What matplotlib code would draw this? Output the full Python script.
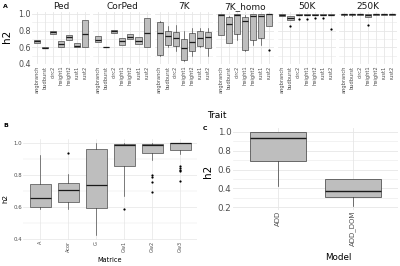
import matplotlib
matplotlib.use("Agg")
import matplotlib.pyplot as plt
import numpy as np

# ---------------- Data ----------------
traits = ["angbranch", "budburst", "circ2", "height1", "height2", "rust1", "rust2"]
datasets = ["Ped", "CorPed", "7K", "7K_homo", "50K", "250K"]

# Panel A: per dataset box stats (q1, median, q3, whisker low, whisker high, outliers)
ped_q1 = [0.652, 0.593, 0.757, 0.603, 0.688, 0.603, 0.600]
ped_med = [0.670, 0.597, 0.780, 0.640, 0.720, 0.620, 0.765]
ped_q3 = [0.688, 0.600, 0.800, 0.676, 0.753, 0.647, 0.927]
ped_lo = ped_q1
ped_hi = ped_q3
ped_out = [[], [], [], [], [], [], []]

corped_q1 = [0.660, 0.598, 0.770, 0.630, 0.696, 0.635, 0.600]
corped_med = [0.690, 0.600, 0.790, 0.675, 0.725, 0.680, 0.777]
corped_q3 = [0.730, 0.602, 0.810, 0.716, 0.757, 0.720, 0.947]
corped_lo = corped_q1
corped_hi = corped_q3
corped_out = [[], [], [], [], [], [], []]

k7_q1 = [0.508, 0.628, 0.610, 0.448, 0.550, 0.620, 0.590]
k7_med = [0.770, 0.740, 0.710, 0.588, 0.667, 0.710, 0.720]
k7_q3 = [0.904, 0.796, 0.780, 0.696, 0.770, 0.790, 0.780]
k7_lo = [0.490, 0.600, 0.560, 0.430, 0.500, 0.600, 0.500]
k7_hi = [0.920, 0.850, 0.870, 0.800, 0.830, 0.830, 0.830]
k7_out = [[], [], [], [], [], [], []]

k7h_q1 = [0.748, 0.648, 0.760, 0.570, 0.690, 0.710, 0.850]
k7h_med = [0.990, 0.880, 0.990, 0.910, 0.976, 0.976, 1.000]
k7h_q3 = [1.000, 0.960, 1.000, 0.960, 1.000, 1.000, 1.000]
k7h_lo = [0.748, 0.648, 0.690, 0.550, 0.630, 0.630, 0.850]
k7h_hi = [1.000, 0.970, 1.000, 0.990, 1.000, 1.000, 1.000]
k7h_out = [[], [], [], [], [], [], [0.57]]

k50_q1 = [0.980, 0.930, 0.985, 0.985, 0.985, 0.985, 0.985]
k50_med = [0.990, 0.950, 0.993, 0.993, 0.993, 0.993, 0.993]
k50_q3 = [1.000, 0.970, 1.000, 1.000, 1.000, 1.000, 1.000]
k50_lo = k50_q1
k50_hi = k50_q3
k50_out = [[], [0.85], [0.94], [0.94], [0.95], [0.95], [0.82]]

k250_q1 = [0.990, 0.992, 0.993, 0.960, 0.993, 0.993, 0.993]
k250_med = [0.995, 0.996, 0.996, 0.990, 0.996, 0.996, 0.996]
k250_q3 = [1.000, 1.000, 1.000, 1.000, 1.000, 1.000, 1.000]
k250_lo = [0.975, 0.980, 0.993, 0.960, 0.993, 0.993, 0.993]
k250_hi = k250_q3
k250_out = [[], [], [], [0.87], [], [], []]

# Panel B
matrices = ["A", "Acor", "G", "Gw1", "Gw2", "Gw3"]
b_q1 = [0.598, 0.629, 0.592, 0.856, 0.938, 0.955]
b_med = [0.660, 0.705, 0.736, 0.990, 0.990, 1.000]
b_q3 = [0.746, 0.753, 0.965, 0.996, 0.996, 1.000]
b_lo = [0.588, 0.590, 0.423, 0.670, 0.897, 0.930]
b_hi = [0.928, 0.810, 1.000, 1.000, 1.000, 1.000]
b_out = [[], [0.94], [], [0.588], [0.80, 0.79, 0.757, 0.695],
         [0.856, 0.845, 0.835, 0.825, 0.763]]

# Panel C
models = ["ADD", "ADD_DOM"]
c_q1 = [0.690, 0.313]
c_med = [0.930, 0.376]
c_q3 = [1.000, 0.496]
c_lo = [0.425, 0.214]
c_hi = [1.000, 0.496]
c_out = [[], []]

panel_a = [
    (ped_q1, ped_med, ped_q3, ped_lo, ped_hi, ped_out),
    (corped_q1, corped_med, corped_q3, corped_lo, corped_hi, corped_out),
    (k7_q1, k7_med, k7_q3, k7_lo, k7_hi, k7_out),
    (k7h_q1, k7h_med, k7h_q3, k7h_lo, k7h_hi, k7h_out),
    (k50_q1, k50_med, k50_q3, k50_lo, k50_hi, k50_out),
    (k250_q1, k250_med, k250_q3, k250_lo, k250_hi, k250_out),
]

# ---------------- Style ----------------
FILL = "#bebebe"
EDGE = "#3a3a3a"
GRID = "#e6e6e6"
TXT = "#4d4d4d"
W, H = 400, 266

fig = plt.figure(figsize=(W / 100, H / 100), dpi=100)
fig.patch.set_facecolor("white")


def px_axes(x0, y0, x1, y1):
    return fig.add_axes([x0 / W, 1 - y1 / H, (x1 - x0) / W, (y1 - y0) / H])


def make_stats(q1, med, q3, lo, hi, out):
    return [dict(q1=a, med=m, q3=b, whislo=l, whishi=h, fliers=f)
            for a, m, b, l, h, f in zip(q1, med, q3, lo, hi, out)]


def style_ax(ax, major, minor, lw=0.5, pad=1):
    for s in ax.spines.values():
        s.set_visible(False)
    ax.set_yticks(major)
    ax.set_yticks(minor, minor=True)
    ax.tick_params(length=0, which="both", colors=TXT, pad=pad)
    ax.grid(True, which="major", color=GRID, lw=lw, zorder=0)
    ax.grid(True, which="minor", axis="y", color=GRID, lw=lw * 0.6, zorder=0)
    ax.set_axisbelow(True)


def draw_box(ax, stats, lw=0.5):
    ax.bxp(stats, positions=np.arange(1, len(stats) + 1), widths=0.75,
           patch_artist=True, showcaps=False,
           boxprops=dict(facecolor=FILL, edgecolor=EDGE, lw=lw),
           medianprops=dict(color="#1a1a1a", lw=lw * 2),
           whiskerprops=dict(color=EDGE, lw=lw),
           flierprops=dict(marker="o", markersize=1.6, markerfacecolor="black",
                           markeredgecolor="none"))


# ---------------- Panel A ----------------
a_left, a_w, a_step = 32, 58, 61.4
a_top, a_bot = 11.5, 64.4
for i, (name, st) in enumerate(zip(datasets, panel_a)):
    x0 = a_left + i * a_step
    ax = px_axes(x0, a_top, x0 + a_w, a_bot)
    style_ax(ax, [0.4, 0.6, 0.8, 1.0], [0.5, 0.7, 0.9], lw=0.6)
    draw_box(ax, make_stats(*st), lw=0.45)
    ax.set_xlim(0.4, len(traits) + 0.6)
    ax.set_ylim(0.395, 1.03)
    ax.set_xticks(np.arange(1, len(traits) + 1))
    ax.set_xticklabels(traits, rotation=90, fontsize=3.7)
    ax.set_title(name, fontsize=6.5, color="#1a1a1a", pad=1.5)
    if i == 0:
        ax.set_yticklabels(["0.4", "0.6", "0.8", "1.0"], fontsize=5.8)
    else:
        ax.set_yticklabels([])

fig.text(3 / W, 1 - 6 / H, "A", fontsize=4.5, fontweight="bold", va="center")
fig.text(7 / W, 1 - 36 / H, "h2", fontsize=7.5, rotation=90, ha="center", va="center")
fig.text(217 / W, 1 - 116 / H, "Trait", fontsize=6.5, ha="center", va="center")

# ---------------- Panel B ----------------
axb = px_axes(23.2, 138.6, 196.8, 240)
style_ax(axb, [0.4, 0.6, 0.8, 1.0], [0.5, 0.7, 0.9], lw=0.5, pad=0.8)
draw_box(axb, make_stats(b_q1, b_med, b_q3, b_lo, b_hi, b_out), lw=0.45)
axb.set_xlim(0.4, len(matrices) + 0.6)
axb.set_ylim(0.394, 1.029)
axb.set_xticks(np.arange(1, len(matrices) + 1))
axb.set_xticklabels(matrices, rotation=90, fontsize=3.6)
axb.set_yticklabels(["0.4", "0.6", "0.8", "1.0"], fontsize=3.9)
fig.text(3 / W, 1 - 126 / H, "B", fontsize=4.5, fontweight="bold", va="center")
fig.text(5 / W, 1 - 198 / H, "h2", fontsize=5.2, rotation=90, ha="center", va="center")
fig.text(110 / W, 1 - 260 / H, "Matrice", fontsize=4.7, ha="center", va="center")

# ---------------- Panel C ----------------
axc = px_axes(233, 128, 398, 209.7)
style_ax(axc, [0.2, 0.4, 0.6, 0.8, 1.0], [0.3, 0.5, 0.7, 0.9], lw=0.6)
draw_box(axc, make_stats(c_q1, c_med, c_q3, c_lo, c_hi, c_out), lw=0.5)
axc.set_xlim(0.4, len(models) + 0.6)
axc.set_ylim(0.175, 1.039)
axc.set_xticks(np.arange(1, len(models) + 1))
axc.set_xticklabels(models, rotation=90, fontsize=5)
axc.set_yticklabels(["0.2", "0.4", "0.6", "0.8", "1.0"], fontsize=6.3)
fig.text(203 / W, 1 - 128 / H, "C", fontsize=4.5, fontweight="bold", va="center")
fig.text(208 / W, 1 - 171 / H, "h2", fontsize=7.5, rotation=90, ha="center", va="center")
fig.text(338 / W, 1 - 258 / H, "Model", fontsize=6.3, ha="center", va="center")

fig.savefig("out.png", dpi=100, facecolor="white")
